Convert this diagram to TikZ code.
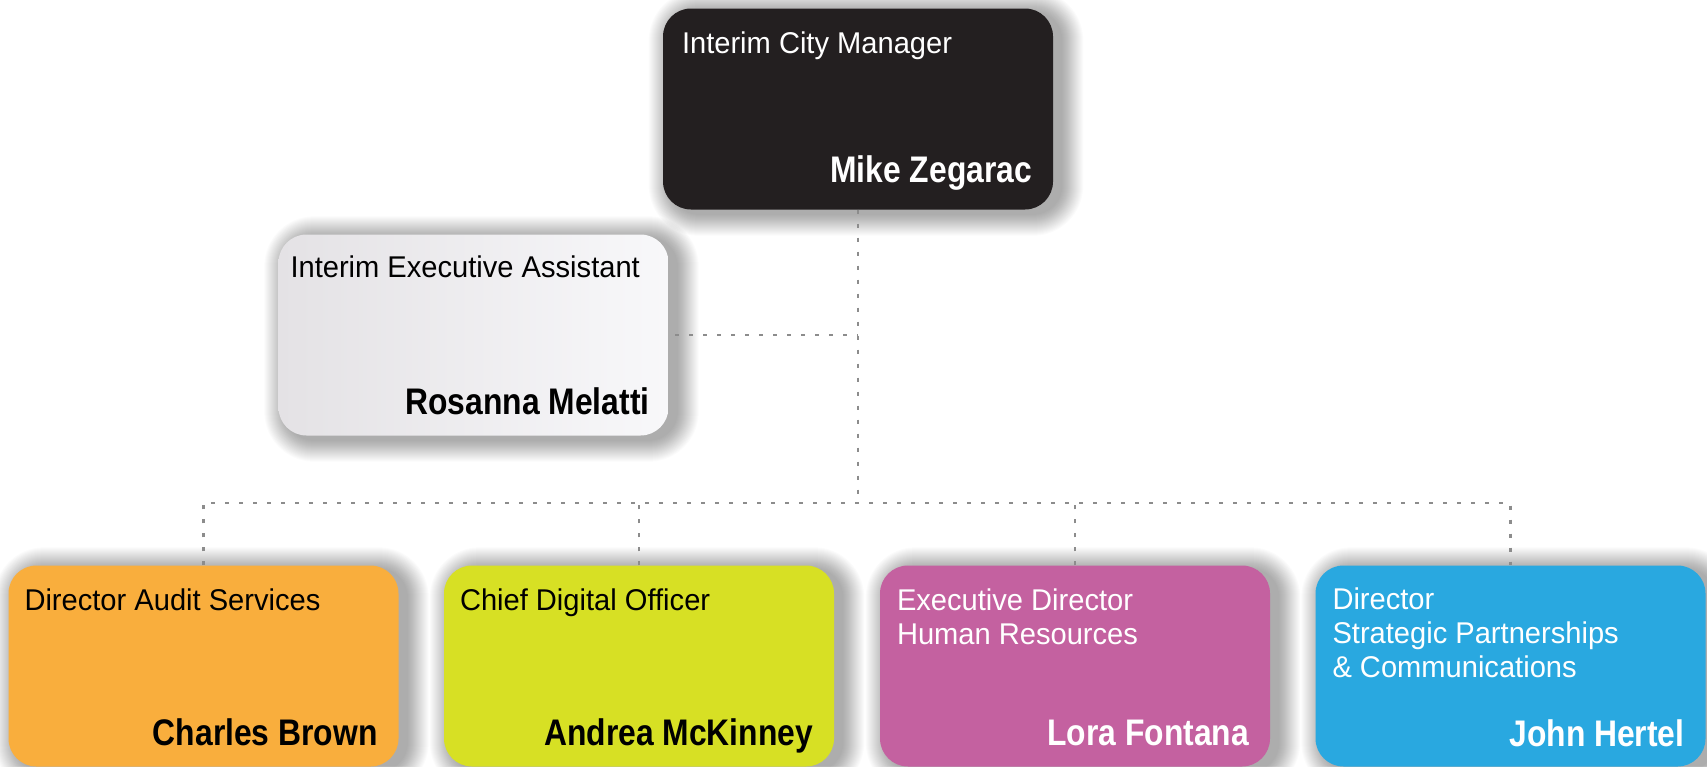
\documentclass[tikz,border=0pt]{standalone}
\usepackage{fontspec}
\newfontfamily\tfont[FakeStretch=0.97]{Liberation Sans}
\newfontfamily\nfont[FakeStretch=0.86]{Liberation Sans}
\pgfdeclarelayer{bg}
\pgfdeclarelayer{shadow}
\pgfsetlayers{bg,shadow,main}
\definecolor{cblack}{HTML}{231F20}
\definecolor{corange}{HTML}{F9AE3D}
\definecolor{clime}{HTML}{D7E024}
\definecolor{cmag}{HTML}{C461A0}
\definecolor{cblue}{HTML}{29A8E0}
\definecolor{cgl}{HTML}{E4E2E5}
\definecolor{cgr}{HTML}{F8F8FA}
\definecolor{cline}{HTML}{8C8C8C}
\tikzset{
  card/.style={rectangle, rounded corners=28pt, minimum width=390pt, minimum height=201pt,
    inner sep=0pt, draw=none},
  ttl/.style={anchor=base west, inner sep=0pt, align=left, font=\tfont\fontsize{30}{34}\selectfont},
  nm/.style={anchor=base east, inner sep=0pt, font=\nfont\bfseries\fontsize{37}{40}\selectfont},
  link/.style={draw=cline, line width=2.2pt, dash pattern=on 4pt off 10pt}
}
\newcommand\cardshadow[1]{%
  \begin{pgfonlayer}{shadow}
  \foreach \i in {1,...,22}{%
    \fill[black, opacity=0.016, rounded corners=28pt+\i pt]
      ([shift={(8-\i,4-\i)}]#1.north west) rectangle ([shift={(8+\i,4+\i)}]#1.south east);
  }%
  \end{pgfonlayer}%
}
\begin{document}
\begin{tikzpicture}[x=1pt,y=-1pt]
\useasboundingbox (0,0) rectangle (1707,766);
\begin{pgfonlayer}{bg}
\fill[white] (0,0) rectangle (1707,766);
\end{pgfonlayer}

% boxes
\node[card, fill=cblack] (top) at (858,109) {};
\node[card, left color=cgl, right color=cgr] (asst) at (473.5,335) {};
\node[card, fill=corange] (b1) at (203.5,666) {};
\node[card, fill=clime] (b2) at (639,666) {};
\node[card, fill=cmag] (b3) at (1075,666) {};
\node[card, fill=cblue] (b4) at (1510.5,666) {};

\cardshadow{top}
\cardshadow{asst}
\cardshadow{b1}
\cardshadow{b2}
\cardshadow{b3}
\cardshadow{b4}

% connectors
\coordinate (bus) at (858,503);
\coordinate (asstend) at (675,335);
\draw[link] (top.south) -- (bus);
\draw[link] (asstend) -- (asstend -| top.south);
\draw[link] (b1.north) -- (b1.north |- bus) -- (b4.north |- bus) -- (b4.north);
\draw[link] (b2.north) -- (b2.north |- bus);
\draw[link] (b3.north) -- (b3.north |- bus);

% texts
\node[ttl, text=white] (topt) at ([shift={(19,45)}]top.north west) {Interim City Manager};
\node[nm, text=white] (topn) at ([shift={(-21,-27)}]top.south east) {Mike Zegarac};

\node[ttl, text=black] (asstt) at ([shift={(12,43)}]asst.north west) {Interim Executive Assistant};
\node[nm, text=black] (asstn) at ([shift={(-19,-21)}]asst.south east) {Rosanna Melatti};

\node[ttl, text=black] (b1t) at ([shift={(16,45)}]b1.north west) {Director Audit Services};
\node[nm, text=black] (b1n) at ([shift={(-21,-21)}]b1.south east) {Charles Brown};

\node[ttl, text=black] (b2t) at ([shift={(16,45)}]b2.north west) {Chief Digital Officer};
\node[nm, text=black] (b2n) at ([shift={(-21,-21)}]b2.south east) {Andrea McKinney};

\node[ttl, text=white] (b3t) at ([shift={(17,79)}]b3.north west) {Executive Director\\Human Resources};
\node[nm, text=white] (b3n) at ([shift={(-21,-21)}]b3.south east) {Lora Fontana};

\node[ttl, text=white] (b4t) at ([shift={(17,112)}]b4.north west) {Director\\Strategic Partnerships\\\& Communications};
\node[nm, text=white] (b4n) at ([shift={(-21,-20)}]b4.south east) {John Hertel};
\end{tikzpicture}
\end{document}
